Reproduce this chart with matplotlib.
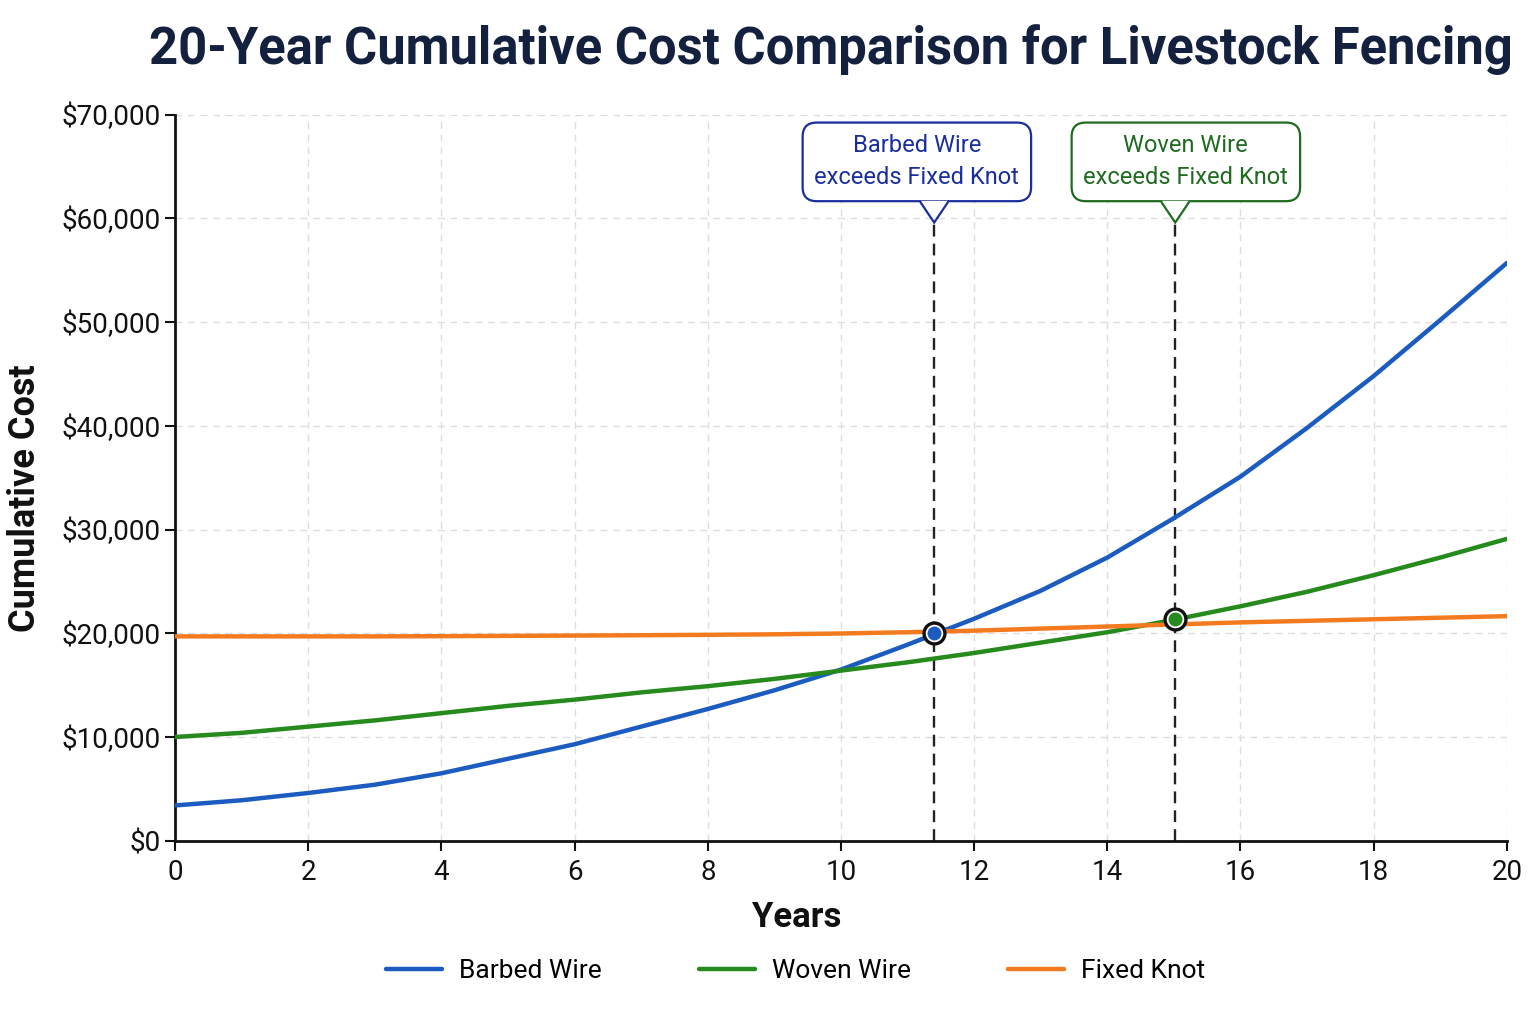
import matplotlib
matplotlib.use("Agg")
import matplotlib.pyplot as plt
import numpy as np
from matplotlib.patches import Polygon
from matplotlib.ticker import FuncFormatter

plt.rcParams['font.family'] = ['Roboto', 'DejaVu Sans']

years = list(range(0, 21))
barbed = [3400, 3900, 4600, 5400, 6500, 7900, 9300, 11000, 12700, 14500, 16500,
          18900, 21400, 24100, 27300, 31100, 35100, 39800, 44800, 50200, 55700]
woven = [10000, 10400, 11000, 11600, 12300, 13000, 13600, 14300, 14900, 15600, 16400,
         17200, 18100, 19100, 20100, 21300, 22600, 24000, 25600, 27300, 29100]
fixed = [19700, 19700, 19700, 19700, 19720, 19750, 19780, 19810, 19850, 19900, 19980,
         20100, 20250, 20450, 20650, 20850, 21050, 21200, 21350, 21500, 21650]

cross_years = [11.4, 15.02]
cross_values = [20000, 21350]
cross_labels = ["Barbed Wire\nexceeds Fixed Knot", "Woven Wire\nexceeds Fixed Knot"]

series_names = ["Barbed Wire", "Woven Wire", "Fixed Knot"]
colors = ["#1c5cc0", "#268a1c", "#f47a20"]
box_colors = ["#1a2f9c", "#1f6b1f"]

fig = plt.figure(figsize=(15.36, 10.24), dpi=100)
ax = fig.add_axes([0.114, 0.179, 0.867, 0.709])

for vals, name, c in zip([barbed, woven, fixed], series_names, colors):
    ax.plot(years, vals, color=c, lw=3.2, label=name, solid_capstyle='round',
            solid_joinstyle='round', zorder=3)

ax.set_xlim(0, 20)
ax.set_ylim(0, 70000)
ax.set_xticks(range(0, 21, 2))
ax.set_yticks(range(0, 70001, 10000))
ax.yaxis.set_major_formatter(FuncFormatter(lambda v, p: f"${int(v):,}"))
ax.tick_params(labelsize=20, length=7, width=1.5, colors='#111111')
ax.tick_params(axis='x', pad=6)
ax.grid(True, ls=(0, (5, 4)), color='#dcdce2', lw=1)
ax.set_axisbelow(True)
for s in ['top', 'right']:
    ax.spines[s].set_visible(False)
for s in ['left', 'bottom']:
    ax.spines[s].set_linewidth(2)
    ax.spines[s].set_color('#111111')

ax.set_xlabel("Years", fontsize=25, fontweight='bold', color='#111111')
ax.xaxis.set_label_coords(0.467, -0.083)
ax.set_ylabel("Cumulative Cost", fontsize=26, fontweight='bold', color='#111111')
ax.yaxis.set_label_coords(-0.099, 0.472)

box_centers = [11.14, 15.18]
tip_y = 59600
box_bottom = 61500
for cx, cy, bx, lab, lc, bc in zip(cross_years, cross_values, box_centers, cross_labels, colors[:2], box_colors):
    ax.plot([cx, cx], [0, tip_y], color='#222222', lw=1.7, ls=(0, (5, 3)), zorder=2)
    ax.plot([cx], [cy], marker='o', ms=15, mfc='white', mec='#111111', mew=2.4, zorder=5)
    ax.plot([cx], [cy], marker='o', ms=9, mfc=lc, mec=lc, zorder=6)
    ax.text(bx, 65450, lab, ha='center', va='center', fontsize=17, color=bc, linespacing=1.5,
            bbox=dict(boxstyle='round,pad=0.5,rounding_size=0.6', fc='white', ec=bc, lw=1.6), zorder=7)
    w = 0.2
    poly = Polygon([[cx - w, box_bottom + 200], [cx, tip_y], [cx + w, box_bottom + 200]],
                   closed=True, fc='white', ec='none', zorder=8)
    ax.add_patch(poly)
    ax.plot([cx - w, cx, cx + w], [box_bottom, tip_y, box_bottom], color=bc, lw=1.6, zorder=9,
            solid_joinstyle='miter')

fig.suptitle("20-Year Cumulative Cost Comparison for Livestock Fencing", x=0.541, y=0.976,
             fontsize=36.5, fontweight='bold', color='#13213f')

fig.legend(loc='center', bbox_to_anchor=(0.518, 0.052), ncol=3, frameon=False, fontsize=19,
           handlelength=2.1, handletextpad=0.65, columnspacing=3.7)

fig.savefig("out.png", dpi=100, facecolor='white')
